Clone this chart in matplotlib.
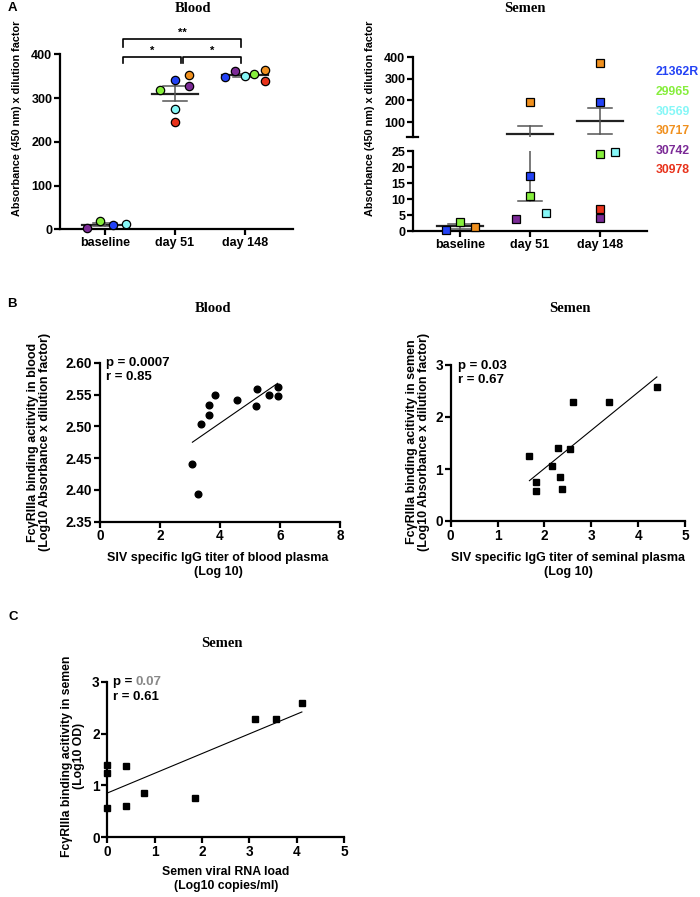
import numpy as np
import matplotlib
matplotlib.use('Agg')
import matplotlib.pyplot as plt

plt.rcParams['font.family'] = ['Liberation Sans', 'DejaVu Sans']
plt.rcParams['font.weight'] = 'bold'
plt.rcParams['axes.labelweight'] = 'bold'

# animals and their colours
animals = ['21362R', '29965', '30569', '30717', '30742', '30978']
colors = ['#2342f5', '#86ee3c', '#86f7f7', '#f0901e', '#7b2a96', '#e8321b']
timepoints = ['baseline', 'day 51', 'day 148']

# panel A, values per animal (nan = not shown)
nan = np.nan
blood_baseline = [10, 18, 12, nan, 3, nan]
blood_d51 = [341, 318, 274, 352, 327, 245]
blood_d148 = [347, 354, 350, 363, 361, 338]
semen_baseline = [0.4, 2.9, nan, 1.2, nan, nan]
semen_d51 = [17.3, 11.0, 5.5, 192, 3.7, nan]
semen_d148 = [194, 24.0, 24.8, 374, 4.0, 6.9]

# panel B / C
b_blood_x = [3.08, 3.27, 3.37, 3.62, 3.62, 3.82, 4.57, 5.20, 5.22, 5.62, 5.92, 5.92]
b_blood_y = [2.441, 2.393, 2.504, 2.517, 2.534, 2.549, 2.542, 2.532, 2.559, 2.550, 2.562, 2.547]
b_semen_x = [1.68, 1.81, 1.83, 2.16, 2.28, 2.33, 2.38, 2.54, 2.60, 3.37, 4.40]
b_semen_y = [1.25, 0.756, 0.583, 1.05, 1.40, 0.853, 0.609, 1.385, 2.295, 2.295, 2.583]
c_x = [0, 0, 0, 0.39, 0.39, 0.78, 1.85, 3.13, 3.56, 4.11]
c_y = [1.39, 1.24, 0.57, 1.38, 0.60, 0.85, 0.75, 2.29, 2.29, 2.58]

# horizontal scatter of points within a group (layout)
blood_off = [[0.11, -0.07, 0.30, 0, -0.26, 0],
             [0, -0.21, 0, 0.20, 0.20, 0],
             [-0.29, 0.13, 0, 0.29, -0.14, 0.29]]
semen_off = [[-0.2, 0, 0, 0.21, 0, 0],
             [0, 0, 0.23, 0, -0.2, 0],
             [0, 0, 0.21, 0, 0, 0]]

W, H = 700, 897
fig = plt.figure(figsize=(7, 8.97), dpi=100)


def px_axes(l, t, r, b):
    return fig.add_axes([l / W, 1 - b / H, (r - l) / W, (b - t) / H])


def ftext(x, y, s, **kw):
    return fig.text(x / W, 1 - y / H, s, **kw)


def style(ax, fs=9):
    for s in ['top', 'right']:
        ax.spines[s].set_visible(False)
    for s in ['left', 'bottom']:
        ax.spines[s].set_linewidth(1.6)
    ax.tick_params(width=1.6, length=4, labelsize=fs, pad=1.5)
    for lab in ax.get_xticklabels() + ax.get_yticklabels():
        lab.set_fontweight('bold')


def mean_sem(ax, x, vals):
    v = np.array(vals, dtype=float)
    v = v[~np.isnan(v)]
    m = v.mean()
    s = v.std(ddof=1) / np.sqrt(len(v))
    ax.plot([x - 0.33, x + 0.33], [m, m], color='#222222', lw=1.6, zorder=2)
    ax.plot([x, x], [m - s, m + s], color='#555555', lw=1.1, zorder=2)
    for y in (m - s, m + s):
        ax.plot([x - 0.17, x + 0.17], [y, y], color='#555555', lw=1.1, zorder=2)


# ---------- A: blood ----------
ax = px_axes(60, 54.3, 293, 229.3)
blood = [blood_baseline, blood_d51, blood_d148]
for i, vals in enumerate(blood):
    mean_sem(ax, i, vals)
    for j, v in enumerate(vals):
        if not np.isnan(v):
            ax.plot(i + blood_off[i][j], v, 'o', ms=6, mfc=colors[j], mec='k', mew=0.9,
                    zorder=3, clip_on=False)
ax.set_xlim(-0.643, 2.686)
ax.set_ylim(0, 400)
ax.set_xticks(range(3))
ax.set_xticklabels(timepoints)
ax.set_yticks([0, 100, 200, 300, 400])
style(ax)
# significance brackets
bk = dict(color='k', lw=1.2, clip_on=False)
ax.plot([0.26, 0.26, 1.086, 1.086], [379, 393, 393, 379], **bk)
ax.plot([1.114, 1.114, 1.94, 1.94], [379, 393, 393, 379], **bk)
ax.plot([0.26, 0.26, 1.94, 1.94], [417, 434, 434, 417], **bk)
ax.text(1.1, 438, '**', ha='center', va='bottom', fontsize=8, clip_on=False)
ax.text(0.67, 397, '*', ha='center', va='bottom', fontsize=8, clip_on=False)
ax.text(1.53, 397, '*', ha='center', va='bottom', fontsize=8, clip_on=False)

ftext(12, 8, 'A', fontsize=9.5, ha='center', va='center')
ftext(193, 8, 'Blood', fontsize=10.5, family='Liberation Serif', ha='center', va='center')
ftext(17, 118, 'Absorbance (450 nm) x dilution factor', rotation=90, fontsize=7.8,
      ha='center', va='center')

# ---------- A: semen (broken axis) ----------
axb = px_axes(413, 151, 647, 231)
axt = px_axes(413, 57, 647, 137)
semen = [semen_baseline, semen_d51, semen_d148]
for a in (axb, axt):
    for i, vals in enumerate(semen):
        mean_sem(a, i, vals)
    a.set_xlim(-0.671, 2.67)
lo, hi = 31, 400
for i, vals in enumerate(semen):
    for j, v in enumerate(vals):
        if np.isnan(v):
            continue
        a = axt if v >= lo else axb
        a.plot(i + semen_off[i][j], v, 's', ms=6, mfc=colors[j], mec='k', mew=0.9,
               zorder=3, clip_on=False)
axb.set_ylim(0, 25)
axb.set_yticks([0, 5, 10, 15, 20, 25])
axb.set_xticks(range(3))
axb.set_xticklabels(timepoints)
style(axb)
axt.set_ylim(lo, hi)
axt.set_yticks([100, 200, 300, 400])
axt.set_xticks([])
style(axt)
axt.spines['bottom'].set_visible(False)
axt.plot([-0.025, 0.02], [0, 0], transform=axt.transAxes, color='k', lw=1.6, clip_on=False)

ftext(525, 8, 'Semen', fontsize=10.5, family='Liberation Serif', ha='center', va='center')
ftext(370, 118, 'Absorbance (450 nm) x dilution factor', rotation=90, fontsize=7.8,
      ha='center', va='center')
leg_y = [72, 92, 112, 131, 151, 170]
for name, c, y in zip(animals, colors, leg_y):
    ftext(656, y, name, color=c, fontsize=8.8, ha='left', va='center')


# ---------- B / C scatter panels ----------
def scatter_panel(rect, x, y, marker, xlim, ylim, xticks, yticks, yfmt):
    a = px_axes(*rect)
    a.plot(x, y, marker, color='k', ms=4.8, zorder=3, clip_on=False)
    k, b0 = np.polyfit(x, y, 1)
    xx = np.array([min(x), max(x)])
    a.plot(xx, k * xx + b0, color='k', lw=0.8)
    a.set_xlim(*xlim)
    a.set_ylim(*ylim)
    a.set_xticks(xticks)
    a.set_yticks(yticks)
    a.set_yticklabels([yfmt.format(t) for t in yticks])
    style(a, fs=9.8)
    return a


scatter_panel((100, 362.7, 340, 521.7), b_blood_x, b_blood_y, 'o', (0, 8), (2.35, 2.60),
              [0, 2, 4, 6, 8], [2.35, 2.40, 2.45, 2.50, 2.55, 2.60], '{:.2f}')
ftext(12, 304, 'B', fontsize=9.5, ha='center', va='center')
ftext(213, 308, 'Blood', fontsize=10.5, family='Liberation Serif', ha='center', va='center')
ftext(106, 370, 'p = 0.0007\nr = 0.85', fontsize=9.5, ha='left', va='center', linespacing=1.15)
ftext(39, 442, 'Fc\u03b3RIIIa binding acitivity in blood\n(Log10 Absorbance x dilution factor)',
      rotation=90, fontsize=9, ha='center', va='center', linespacing=1.1)
ftext(218, 565, 'SIV specific IgG titer of blood plasma\n(Log 10)', fontsize=9,
      ha='center', va='center', linespacing=1.15)

scatter_panel((450.7, 365, 685, 521), b_semen_x, b_semen_y, 's', (0, 5), (0, 3),
              [0, 1, 2, 3, 4, 5], [0, 1, 2, 3], '{:.0f}')
ftext(570, 308, 'Semen', fontsize=10.5, family='Liberation Serif', ha='center', va='center')
ftext(458, 373, 'p = 0.03\nr = 0.67', fontsize=9.5, ha='left', va='center', linespacing=1.15)
ftext(418, 442, 'Fc\u03b3RIIIa binding acitivity in semen\n(Log10 Absorbance x dilution factor)',
      rotation=90, fontsize=9, ha='center', va='center', linespacing=1.1)
ftext(568, 565, 'SIV specific IgG titer of seminal plasma\n(Log 10)', fontsize=9,
      ha='center', va='center', linespacing=1.15)

scatter_panel((107.3, 681.7, 344, 837.3), c_x, c_y, 's', (0, 5), (0, 3),
              [0, 1, 2, 3, 4, 5], [0, 1, 2, 3], '{:.0f}')
ftext(13, 617, 'C', fontsize=9.5, ha='center', va='center')
ftext(222, 643, 'Semen', fontsize=10.5, family='Liberation Serif', ha='center', va='center')
tp = ftext(113, 682, 'p = ', fontsize=9.5, ha='left', va='center')
tv = ftext(0, 0, '0.07', fontsize=9.5, color='#888888', ha='left', va='center')
ftext(113, 697, 'r = 0.61', fontsize=9.5, ha='left', va='center')
ftext(73, 756, 'Fc\u03b3RIIIa binding acitivity in semen\n(Log10 OD)',
      rotation=90, fontsize=8.8, ha='center', va='center', linespacing=1.1)
ftext(226, 879, 'Semen viral RNA load\n(Log10 copies/ml)', fontsize=8.8,
      ha='center', va='center', linespacing=1.15)

# place the grey p value right after "p = "
fig.canvas.draw()
bb = tp.get_window_extent(fig.canvas.get_renderer())
tv.set_position((bb.x1 / fig.bbox.width, (bb.y0 + bb.y1) / 2 / fig.bbox.height))

fig.savefig('out.png', dpi=100)
